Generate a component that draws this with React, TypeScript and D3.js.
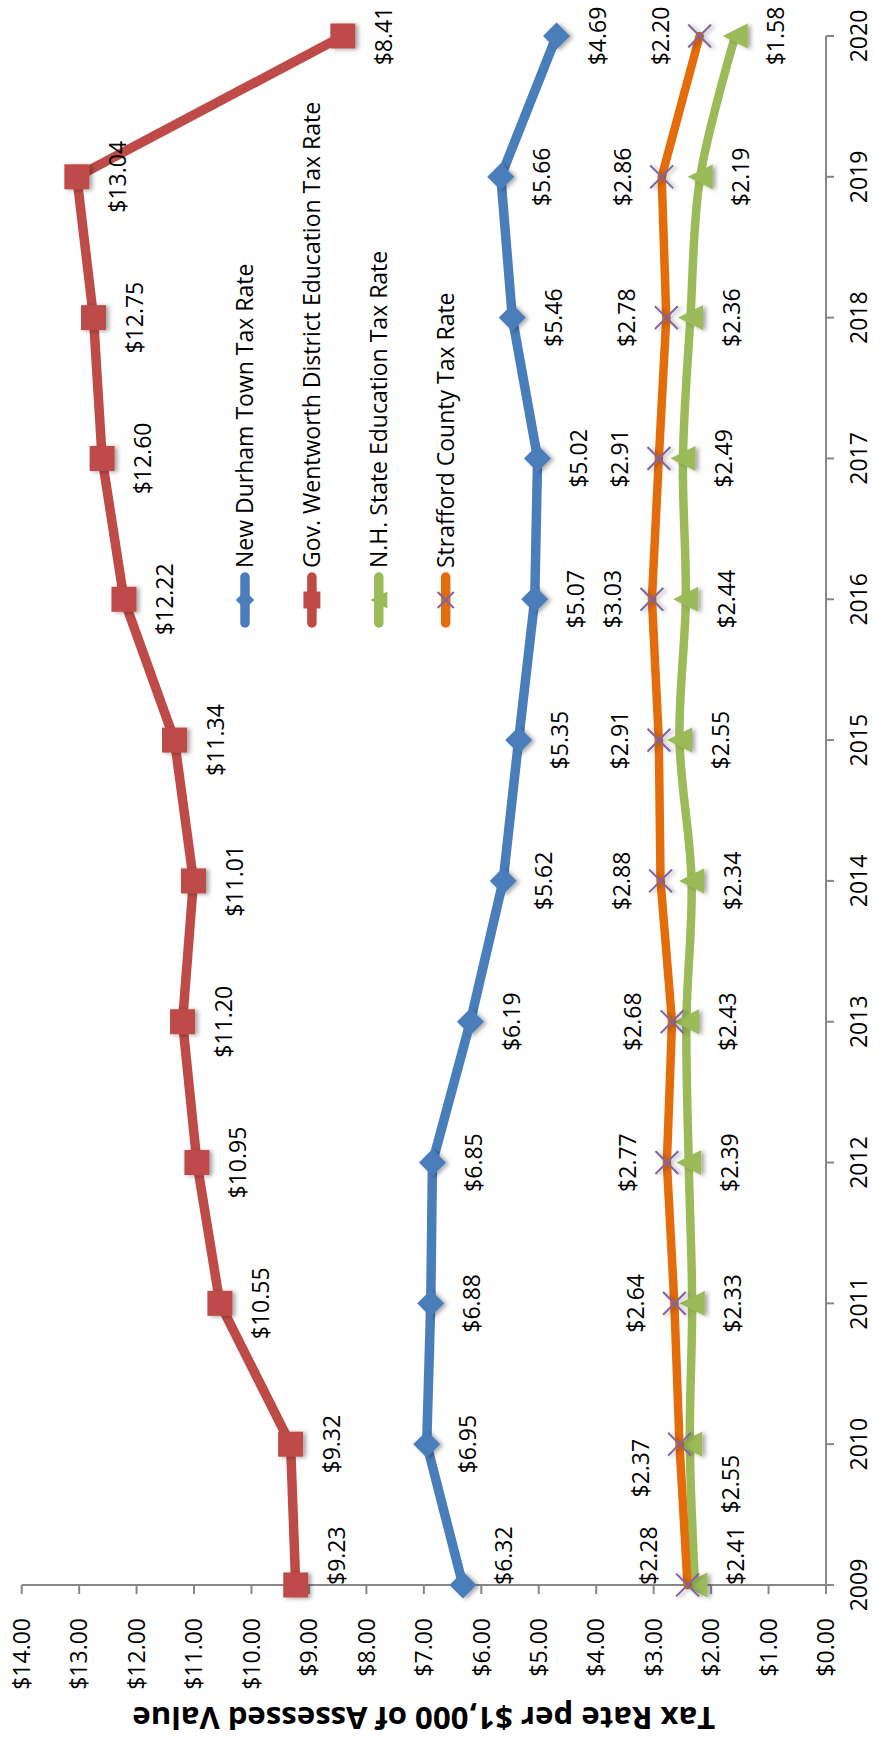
import React from 'react';
import * as d3 from 'd3';

const years = [2009, 2010, 2011, 2012, 2013, 2014, 2015, 2016, 2017, 2018, 2019, 2020];
const townRate = [6.32, 6.95, 6.88, 6.85, 6.19, 5.62, 5.35, 5.07, 5.02, 5.46, 5.66, 4.69];
const districtRate = [9.23, 9.32, 10.55, 10.95, 11.2, 11.01, 11.34, 12.22, 12.6, 12.75, 13.04, 8.41];
const stateRate = [2.28, 2.37, 2.33, 2.39, 2.43, 2.34, 2.55, 2.44, 2.49, 2.36, 2.19, 1.58];
const stateLabels = [2.41, 2.55, 2.33, 2.39, 2.43, 2.34, 2.55, 2.44, 2.49, 2.36, 2.19, 1.58];
const countyRate = [2.41, 2.55, 2.64, 2.77, 2.68, 2.88, 2.91, 3.03, 2.91, 2.78, 2.86, 2.2];
const countyLabels = [2.28, 2.37, 2.64, 2.77, 2.68, 2.88, 2.91, 3.03, 2.91, 2.78, 2.86, 2.2];
const valueTicks = [0, 1, 2, 3, 4, 5, 6, 7, 8, 9, 10, 11, 12, 13, 14];
const seriesNames = [
  'New Durham Town Tax Rate',
  'Gov. Wentworth District Education Tax Rate',
  'N.H. State Education Tax Rate',
  'Strafford County Tax Rate',
];
const axisTitle = 'Tax Rate per $1,000 of Assessed Value';

// ---- layout (landscape coordinates, rotated -90deg onto the page) ----
const PAGE_W = 873;
const PAGE_H = 1743;
const FONT = "'Open Sans', 'Noto Sans', sans-serif";
const AXIS_COLOR = '#878787';

const x = d3.scalePoint<number>().domain(years).range([158, 1707]);
const y = d3.scaleLinear().domain([0, 14]).range([826, 21.7]);
const money = (v: number) => '$' + d3.format('.2f')(v);

type MarkerKind = 'diamond' | 'square' | 'triangle' | 'x';

const series = [
  { name: seriesNames[0], values: townRate, labels: townRate, color: '#4A7EBB', marker: 'diamond' as MarkerKind, side: 1, smooth: false, width: 9.5 },
  { name: seriesNames[1], values: districtRate, labels: districtRate, color: '#BE4B48', marker: 'square' as MarkerKind, side: 1, smooth: false, width: 9.5 },
  { name: seriesNames[2], values: stateRate, labels: stateLabels, color: '#9BBB59', marker: 'triangle' as MarkerKind, side: 1, smooth: true, width: 8.5 },
  { name: seriesNames[3], values: countyRate, labels: countyLabels, color: '#E46C0A', marker: 'x' as MarkerKind, side: -1, smooth: false, width: 8.5 },
];

// manual label nudges (landscape x units) seen in the reference
const labelNudge: Record<string, number> = { '2-1': -40, '3-1': -24 };

function Marker({ kind, cx, cy, color, size, shadow }: { kind: MarkerKind; cx: number; cy: number; color: string; size: number; shadow: boolean }) {
  const h = size / 2;
  const filter = shadow ? 'url(#mshadow)' : undefined;
  if (kind === 'square') {
    return <rect x={cx - h} y={cy - h} width={size} height={size} fill={color} filter={filter} />;
  }
  if (kind === 'diamond') {
    const d = h * 1.08;
    return <path d={`M${cx},${cy - d}L${cx + d},${cy}L${cx},${cy + d}L${cx - d},${cy}Z`} fill={color} filter={filter} />;
  }
  if (kind === 'triangle') {
    return <path d={`M${cx},${cy - h}L${cx + h},${cy + h}L${cx - h},${cy + h}Z`} fill={color} filter={filter} />;
  }
  const k = h * 0.95;
  return (
    <g stroke="#8064A2" strokeWidth={2} filter={filter}>
      <line x1={cx - k} y1={cy - k} x2={cx + k} y2={cy + k} />
      <line x1={cx - k} y1={cy + k} x2={cx + k} y2={cy - k} />
    </g>
  );
}

export default function App() {
  const straight = d3.line<number>().x((_, i) => x(years[i]) as number).y((v) => y(v));
  const smooth = d3
    .line<number>()
    .x((_, i) => x(years[i]) as number)
    .y((v) => y(v))
    .curve(d3.curveCardinal.tension(0));

  const legendY0 = 245;
  const legendStep = 66.9;

  return (
    <svg width={PAGE_W} height={PAGE_H} style={{ position: 'absolute', left: 0, top: 0, background: '#fff' }} fontFamily={FONT}>
      <defs>
        <filter id="mshadow" x="-50%" y="-50%" width="200%" height="200%">
          <feDropShadow dx={-1} dy={3} stdDeviation={2} floodColor="#000" floodOpacity={0.35} />
        </filter>
      </defs>
      <rect x={0} y={0} width={PAGE_W} height={PAGE_H} fill="#fff" />
      <g transform={`translate(0,${PAGE_H}) rotate(-90)`}>
        {/* value axis */}
        <line x1={x(years[0])} x2={x(years[0])} y1={y(0)} y2={y(14)} stroke={AXIS_COLOR} strokeWidth={2} />
        {valueTicks.map((t) => (
          <g key={'vt' + t}>
            <line x1={(x(years[0]) as number) - 9} x2={x(years[0])} y1={y(t)} y2={y(t)} stroke={AXIS_COLOR} strokeWidth={2} />
            <text x={125} y={y(t) + 8.2} textAnchor="end" fontSize={23} fill="#000">
              {money(t)}
            </text>
          </g>
        ))}
        {/* category axis */}
        <line x1={x(years[0])} x2={x(years[years.length - 1])} y1={y(0)} y2={y(0)} stroke={AXIS_COLOR} strokeWidth={2} />
        {years.map((yr) => (
          <g key={'ct' + yr}>
            <line x1={x(yr)} x2={x(yr)} y1={y(0)} y2={y(0) + 8} stroke={AXIS_COLOR} strokeWidth={2} />
            <text x={x(yr)} y={867} textAnchor="middle" fontSize={23} fill="#000">
              {yr}
            </text>
          </g>
        ))}
        {/* axis title */}
        <text
          transform={`translate(36,${(y(0) + y(14)) / 2}) rotate(-90)`}
          textAnchor="middle"
          fontSize={31}
          fontWeight="bold"
          textLength={583}
          lengthAdjust="spacingAndGlyphs"
          fill="#000"
        >
          {axisTitle}
        </text>

        {/* series */}
        {series.map((s, si) => (
          <g key={'s' + si}>
            <path
              d={(s.smooth ? smooth : straight)(s.values) || ''}
              fill="none"
              stroke={s.color}
              strokeWidth={s.width}
              strokeLinejoin="round"
              strokeLinecap="round"
            />
            {s.values.map((v, i) => (
              <Marker key={i} kind={s.marker} cx={x(years[i]) as number} cy={y(v)} color={s.color} size={s.marker === 'x' ? 24 : 25} shadow={true} />
            ))}
          </g>
        ))}

        {/* data labels */}
        {series.map((s, si) =>
          s.values.map((v, i) => {
            const px = (x(years[i]) as number) + (labelNudge[si + '-' + i] || 0);
            const cy = y(v) + (s.side > 0 ? 41 : -39);
            return (
              <text
                key={'l' + si + '-' + i}
                x={px}
                y={cy + 8.2}
                textAnchor={i === 0 ? 'start' : 'middle'}
                fontSize={23}
                fill="#000"
              >
                {money(s.labels[i])}
              </text>
            );
          })
        )}

        {/* legend */}
        {series.map((s, si) => {
          const ly = legendY0 + si * legendStep;
          return (
            <g key={'lg' + si}>
              <line x1={1120} x2={1166} y1={ly} y2={ly} stroke={s.color} strokeWidth={9.5} strokeLinecap="round" />
              <Marker kind={s.marker} cx={1143} cy={ly} color={s.color} size={17} shadow={false} />
              <text x={1175} y={ly + 8} fontSize={23} fill="#000">
                {s.name}
              </text>
            </g>
          );
        })}
      </g>
    </svg>
  );
}
